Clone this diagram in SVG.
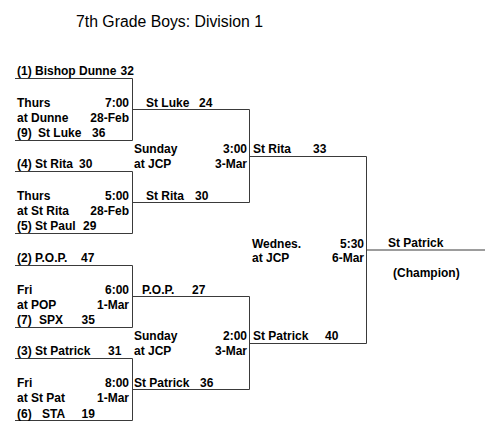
<svg xmlns="http://www.w3.org/2000/svg" width="500" height="442" viewBox="0 0 500 442">
<style>
text{font-family:"Liberation Sans",Arial,sans-serif;font-size:12px;font-weight:bold;fill:#000}
.t{font-size:15.8px;font-weight:normal}
.r{text-anchor:end}
.ln{fill:none;stroke:#3a3a3a;stroke-width:1}
</style>
<rect width="500" height="442" fill="#fff"/>
<text class="t" x="76" y="27">7th Grade Boys: Division 1</text>
<g id="connectors" class="ln">
<path d="M15 78.5H132.5V140.5H15"/>
<path d="M132.5 109.5H249.5"/>
<path d="M15 171.5H132.5V233.5H15"/>
<path d="M132.5 202.5H249.5"/>
<path d="M249.5 109.5V202.5"/>
<path d="M249.5 156.5H366.5"/>
<path d="M15 265.5H132.5V327.5H15"/>
<path d="M132.5 296.5H249.5"/>
<path d="M15 358.5H132.5V420.5H15"/>
<path d="M132.5 389.5H249.5"/>
<path d="M249.5 296.5V389.5"/>
<path d="M249.5 343.5H366.5"/>
<path d="M366.5 156.5V343.5"/>
<path d="M366.5 250H485"/>
</g>
<g id="game1">
<text x="17" y="75">(1) Bishop Dunne</text><text x="120.5" y="75">32</text>
<text x="17" y="107">Thurs</text><text class="r" x="129" y="107">7:00</text>
<text x="17" y="122">at Dunne</text><text class="r" x="129" y="122">28-Feb</text>
<text x="17" y="137">(9)</text><text x="38" y="137">St Luke</text><text x="92" y="137">36</text>
</g>
<g id="game2">
<text x="17" y="168">(4) St Rita</text><text x="79" y="168">30</text>
<text x="17" y="199.5">Thurs</text><text class="r" x="129" y="199.5">5:00</text>
<text x="17" y="214.5">at St Rita</text><text class="r" x="129" y="214.5">28-Feb</text>
<text x="17" y="230">(5) St Paul</text><text x="83" y="230">29</text>
</g>
<g id="game5">
<text x="146" y="107">St Luke</text><text x="199" y="107">24</text>
<text x="134" y="153">Sunday</text><text class="r" x="247" y="153">3:00</text>
<text x="134" y="168">at JCP</text><text class="r" x="247" y="168">3-Mar</text>
<text x="146" y="199.5">St Rita</text><text x="195" y="199.5">30</text>
</g>
<g id="game3">
<text x="17" y="262">(2) P.O.P.</text><text x="81" y="262">47</text>
<text x="17" y="293.5">Fri</text><text class="r" x="129" y="293.5">6:00</text>
<text x="17" y="308.5">at POP</text><text class="r" x="129" y="308.5">1-Mar</text>
<text x="17" y="324">(7)</text><text x="39" y="324">SPX</text><text x="81.5" y="324">35</text>
</g>
<g id="game4">
<text x="17" y="355">(3) St Patrick</text><text x="108" y="355">31</text>
<text x="17" y="387">Fri</text><text class="r" x="129" y="387">8:00</text>
<text x="17" y="402">at St Pat</text><text class="r" x="129" y="402">1-Mar</text>
<text x="17" y="417.5">(6)</text><text x="42" y="417.5">STA</text><text x="81.5" y="417.5">19</text>
</g>
<g id="game6">
<text x="142" y="293.5">P.O.P.</text><text x="192" y="293.5">27</text>
<text x="134" y="340">Sunday</text><text class="r" x="247" y="340">2:00</text>
<text x="134" y="355">at JCP</text><text class="r" x="247" y="355">3-Mar</text>
<text x="134" y="387">St Patrick</text><text x="200" y="387">36</text>
</g>
<g id="final">
<text x="253" y="153">St Rita</text><text x="313" y="153">33</text>
<text x="253" y="340">St Patrick</text><text x="325" y="340">40</text>
<text x="252" y="247.5">Wednes.</text><text class="r" x="364" y="247.5">5:30</text>
<text x="252" y="262">at JCP</text><text class="r" x="364" y="262">6-Mar</text>
</g>
<g id="champion">
<text x="388" y="247">St Patrick</text>
<text x="393" y="277">(Champion)</text>
</g>
</svg>
